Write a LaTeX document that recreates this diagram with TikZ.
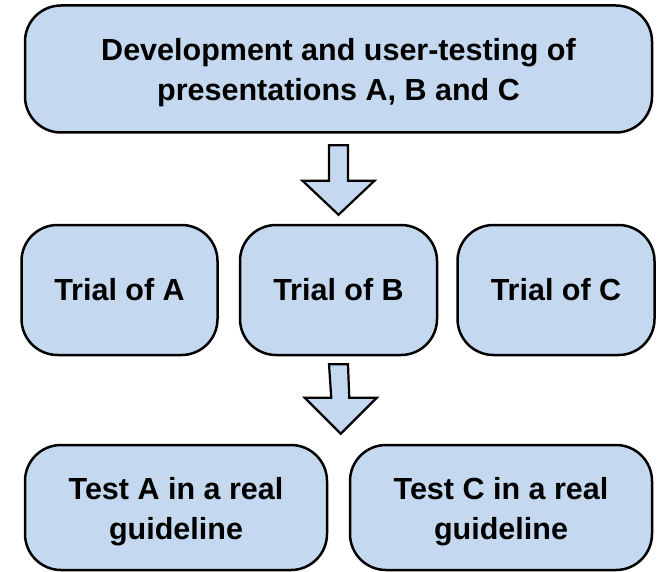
\documentclass[tikz,border=0pt]{standalone}
\usepackage{fontspec}
\setmainfont{Liberation Sans}
\usepackage{tikz}
\usetikzlibrary{calc}
\usetikzlibrary{positioning}

\definecolor{boxblue}{RGB}{196,217,240}

\begin{document}
\begin{tikzpicture}[x=1pt,y=-1pt,line join=miter,
            box/.style={draw,line width=2.5pt,fill=boxblue,rounded corners=36pt,
                align=center,inner sep=0pt,
                font=\fontsize{30.5}{40}\selectfont\bfseries},
            fatarrow/.style={draw,line width=2.2pt,fill=boxblue}]
            \useasboundingbox (0,0) rectangle (661,572);

            \node[box,minimum width=627pt,minimum height=127pt,text height=70pt] (dev) at (338.5,69)
                {Development and user-testing of\\presentations A, B and C};

            \node[box,minimum width=197pt,minimum height=130pt] (trialB) at (338.5,290) {Trial of B};
            \node[box,minimum width=196pt,minimum height=130pt,left=20pt of trialB] (trialA) {Trial of A};
            \node[box,minimum width=197pt,minimum height=130pt,right=18pt of trialB] (trialC) {Trial of C};

            \node[box,minimum width=302pt,minimum height=125pt,text height=71pt] (testA) at (176,507.5) {Test A in a real\\guideline};
            \node[box,minimum width=302pt,minimum height=125pt,text height=71pt] (testC) at (501,507.5) {Test C in a real\\guideline};

            \draw [fatarrow] ($(dev.south)+(-9.5,11.5)$) -- ($(dev.south)+(9.5,11.5)$)
                -- ($(trialB.north)+(9.5,-43)$) -- ($(trialB.north)+(36,-43)$)
                -- ($(trialB.north)+(0,-9)$) -- ($(trialB.north)+(-36,-43)$)
                -- ($(trialB.north)+(-9.5,-43)$) -- cycle;
            \draw [fatarrow] ($(trialB.south)+(-9.5,8)$) -- ($(trialB.south)+(9.5,8)$)
                -- ($(testA.north east)+(21,-46)$) -- ($(testA.north east)+(48.5,-46)$)
                -- ($(testA.north east)+(12.5,-10)$) -- ($(testA.north east)+(-23.5,-46)$)
                -- ($(testA.north east)+(3,-46)$) -- cycle;
        \end{tikzpicture}
\end{document}
